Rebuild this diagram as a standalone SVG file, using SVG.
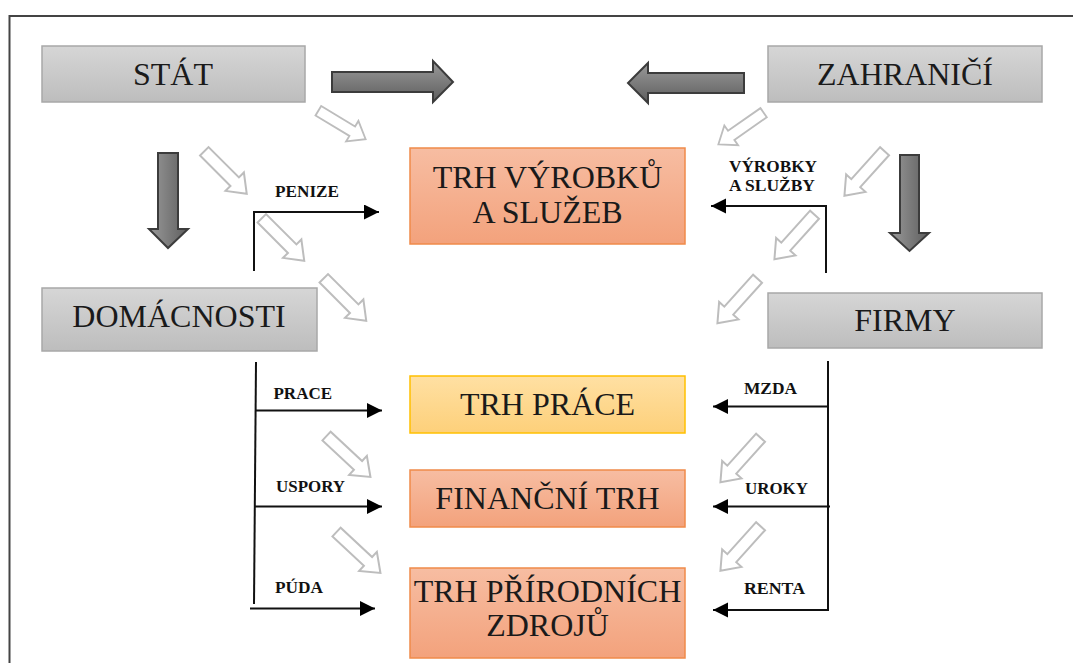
<svg xmlns="http://www.w3.org/2000/svg" width="1073" height="663" viewBox="0 0 1073 663">
<defs>
<linearGradient id="gGray" x1="0" y1="0" x2="0" y2="1"><stop offset="0" stop-color="#d6d6d6"/><stop offset="1" stop-color="#bdbdbd"/></linearGradient>
<linearGradient id="gOrange" x1="0" y1="0" x2="0" y2="1"><stop offset="0" stop-color="#f7bda2"/><stop offset="1" stop-color="#f3a27c"/></linearGradient>
<linearGradient id="gYellow" x1="0" y1="0" x2="0" y2="1"><stop offset="0" stop-color="#ffe0a3"/><stop offset="1" stop-color="#fdd07a"/></linearGradient>
<linearGradient id="gDarkH" x1="0" y1="0" x2="0" y2="1"><stop offset="0" stop-color="#9a9a9a"/><stop offset="1" stop-color="#5e5e5e"/></linearGradient>
<linearGradient id="gDarkV" x1="0" y1="0" x2="1" y2="0"><stop offset="0" stop-color="#9a9a9a"/><stop offset="1" stop-color="#5e5e5e"/></linearGradient>
<marker id="ah" markerUnits="userSpaceOnUse" markerWidth="16" markerHeight="16" refX="15" refY="7.5" orient="auto"><path d="M0,0 L15,7.5 L0,15 Z" fill="#000"/></marker>
<path id="hollow" d="M30,0 L13,-13 L13,-6 L-30,-6 L-30,6 L13,6 L13,13 Z"/>
</defs>
<style>
.gbox{fill:url(#gGray);stroke:#a8a8a8;stroke-width:1.5}
.obox{fill:url(#gOrange);stroke:#f08a4a;stroke-width:1.5}
.ybox{fill:url(#gYellow);stroke:#ffc000;stroke-width:1.5}
.big{font-size:32px;fill:#1a1a1a;text-anchor:middle}
.lbl{font-size:17px;font-weight:bold;fill:#111}
.con{fill:none;stroke:#111;stroke-width:2}
.hol use{fill:#fff;stroke:#bdbdbd;stroke-width:2}
.dark{stroke:#3c3c3c;stroke-width:2}
</style>
<rect x="9.5" y="16" width="1075" height="660" fill="#fff" stroke="#444" stroke-width="2"/>

<g font-family="'Liberation Serif', 'Times New Roman', serif">
<g id="stat"><rect class="gbox" x="42" y="46" width="263" height="56"/><text class="big" font-family="Liberation Serif, serif" x="173" y="85">STÁT</text></g>
<g id="zahranici"><rect class="gbox" x="768" y="46" width="274" height="56"/><text class="big" font-family="Liberation Serif, serif" x="905" y="85">ZAHRANIČÍ</text></g>
<g id="domacnosti"><rect class="gbox" x="42" y="288" width="275" height="63"/><text class="big" font-family="Liberation Serif, serif" x="179" y="327">DOMÁCNOSTI</text></g>
<g id="firmy"><rect class="gbox" x="768" y="293" width="274" height="55"/><text class="big" font-family="Liberation Serif, serif" x="905" y="331">FIRMY</text></g>
<g id="trh-vyrobku"><rect class="obox" x="410" y="148" width="275" height="96"/><text class="big" font-family="Liberation Serif, serif" x="547.5" y="188">TRH VÝROBKŮ</text><text class="big" font-family="Liberation Serif, serif" x="547.5" y="223">A SLUŽEB</text></g>
<g id="trh-prace"><rect class="ybox" x="410" y="376" width="275" height="57"/><text class="big" font-family="Liberation Serif, serif" x="547.5" y="415">TRH PRÁCE</text></g>
<g id="financni-trh"><rect class="obox" x="410" y="470" width="275" height="57"/><text class="big" font-family="Liberation Serif, serif" x="547.5" y="509">FINANČNÍ TRH</text></g>
<g id="trh-prirodnich"><rect class="obox" x="410" y="568" width="275" height="90"/><text class="big" font-family="Liberation Serif, serif" font-size="31" x="547.5" y="602">TRH PŘÍRODNÍCH</text><text class="big" font-family="Liberation Serif, serif" font-size="31" x="547.5" y="636">ZDROJŮ</text></g>

<g id="connectors">
<g id="dark-arrows" class="dark">
<path fill="url(#gDarkH)" d="M332,72 L433,72 L433,61 L453,82 L433,102 L433,92 L332,92 Z"/>
<path fill="url(#gDarkH)" d="M744,73 L648,73 L648,63 L628,83 L648,103 L648,93 L744,93 Z"/>
<path fill="url(#gDarkV)" d="M158,153 L178,153 L178,229 L188,229 L168,248 L149,229 L158,229 Z"/>
<path fill="url(#gDarkV)" d="M900,155 L919,155 L919,233 L929,233 L909.5,251 L890,233 L900,233 Z"/>
</g>
<g id="hollow-arrows" class="hol">
<use href="#hollow" transform="translate(342,125) rotate(31) scale(0.92)"/>
<use href="#hollow" transform="translate(225.5,172.5) rotate(45)"/>
<use href="#hollow" transform="translate(283,239.5) rotate(45)"/>
<use href="#hollow" transform="translate(345,299.5) rotate(45)"/>
<use href="#hollow" transform="translate(348.5,456.5) rotate(43)"/>
<use href="#hollow" transform="translate(358.5,552.5) rotate(43)"/>
<use href="#hollow" transform="translate(741,128.5) rotate(145) scale(0.92)"/>
<use href="#hollow" transform="translate(864.5,173.5) rotate(132)"/>
<use href="#hollow" transform="translate(794.5,237) rotate(132)"/>
<use href="#hollow" transform="translate(737.5,301) rotate(132)"/>
<use href="#hollow" transform="translate(740.5,460) rotate(132)"/>
<use href="#hollow" transform="translate(740.5,548.5) rotate(132)"/>
</g>
<polyline class="con" points="254,271 254,212 379,212" marker-end="url(#ah)"/>
<polyline class="con" points="826,273 826,206 711,206" marker-end="url(#ah)"/>
<line class="con" x1="256" y1="362" x2="254" y2="604"/>
<line class="con" x1="256" y1="410.5" x2="382" y2="410.5" marker-end="url(#ah)"/>
<line class="con" x1="255" y1="506.5" x2="382" y2="506.5" marker-end="url(#ah)"/>
<line class="con" x1="250" y1="608.5" x2="375" y2="608.5" marker-end="url(#ah)"/>
<line class="con" x1="828" y1="361" x2="828" y2="611"/>
<line class="con" x1="829" y1="406.5" x2="713" y2="406.5" marker-end="url(#ah)"/>
<line class="con" x1="830" y1="506.5" x2="713" y2="506.5" marker-end="url(#ah)"/>
<line class="con" x1="829" y1="610" x2="713" y2="610" marker-end="url(#ah)"/>
<g font-family="Liberation Serif, serif">
<text class="lbl" x="275" y="197" textLength="64" lengthAdjust="spacingAndGlyphs">PENIZE</text>
<text class="lbl" x="729" y="172" textLength="88" lengthAdjust="spacingAndGlyphs">VÝROBKY</text>
<text class="lbl" x="729" y="190.5" textLength="86" lengthAdjust="spacingAndGlyphs">A SLUŽBY</text>
<text class="lbl" x="273.5" y="399" textLength="58.5" lengthAdjust="spacingAndGlyphs">PRACE</text>
<text class="lbl" x="276" y="491.5" textLength="69" lengthAdjust="spacingAndGlyphs">USPORY</text>
<text class="lbl" x="275" y="593" textLength="48" lengthAdjust="spacingAndGlyphs">PÚDA</text>
<text class="lbl" x="744" y="394" textLength="53" lengthAdjust="spacingAndGlyphs">MZDA</text>
<text class="lbl" x="745" y="494" textLength="63" lengthAdjust="spacingAndGlyphs">UROKY</text>
<text class="lbl" x="744" y="594" textLength="61" lengthAdjust="spacingAndGlyphs">RENTA</text>
</g>
</g>
</g>
</svg>
